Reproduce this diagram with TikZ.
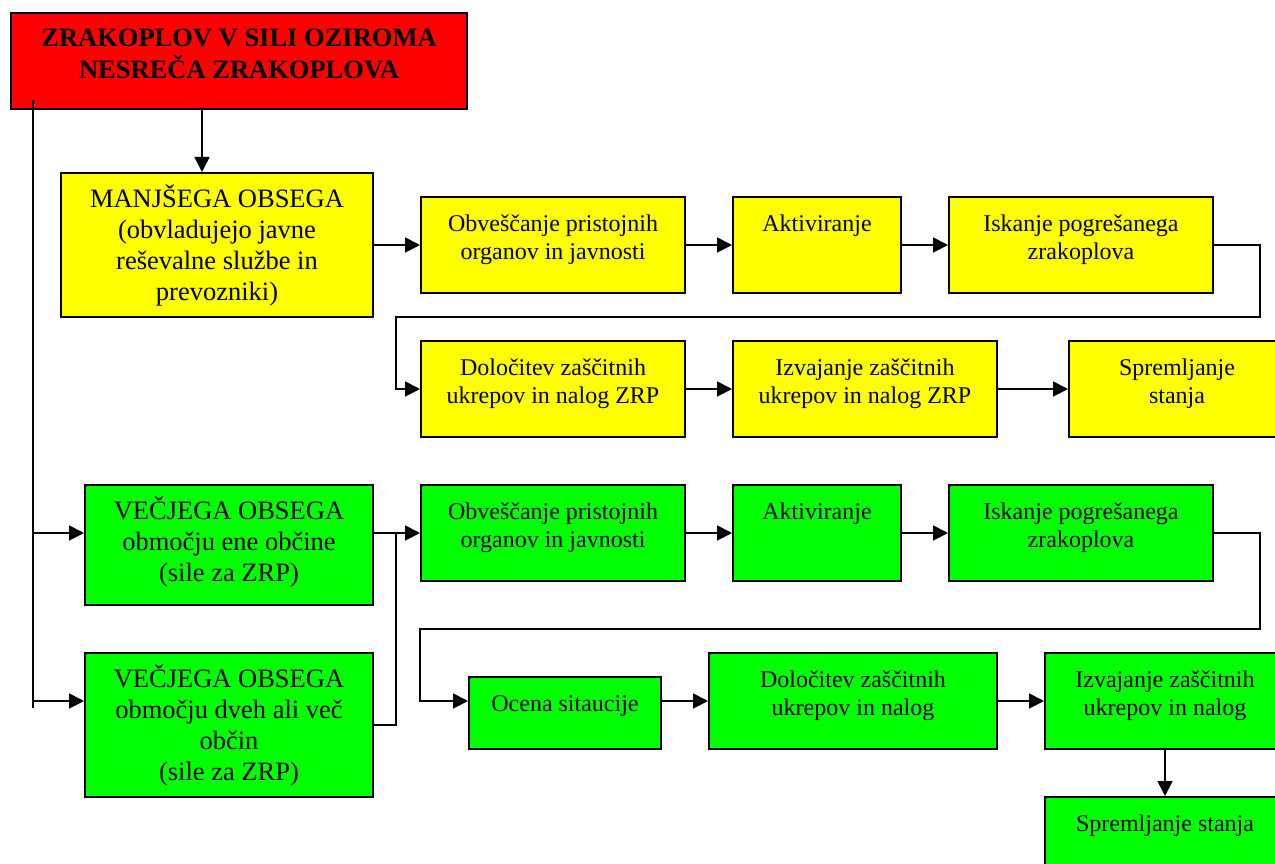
\documentclass[tikz,border=0pt]{standalone}
\usepackage{fontspec}
\setmainfont{Liberation Serif}
\usetikzlibrary{arrows.meta,calc}

\definecolor{alarmred}{HTML}{FF0000}
\definecolor{minoryellow}{HTML}{FFFF00}
\definecolor{majorgreen}{HTML}{00FF00}

\newcommand{\boxtext}[3]{\parbox[c][#2][t]{#1}{\centering\rule{0pt}{34pt}#3}}

\tikzset{
  stage/.style={draw, line width=2pt, inner sep=0pt, anchor=north west,
    font=\fontsize{24}{28}\selectfont},
  level/.style={stage, font=\fontsize{26.5}{31}\selectfont},
  flow/.style={line width=1.8pt, -{Triangle[length=15pt,width=15pt]}},
  wire/.style={line width=1.8pt}
}

\begin{document}
\begin{tikzpicture}[x=1pt, y=-1pt]
                \useasboundingbox (0,0) rectangle (1275,864);
                \clip (0,0) rectangle (1275,864);

                \node[level, fill=alarmred, font=\fontsize{26.5}{32}\selectfont\bfseries] (alarm) at (10,12)
                    {\boxtext{456pt}{96pt}{ZRAKOPLOV V SILI OZIROMA\\NESREČA ZRAKOPLOVA}};

                % manjsi obseg
                \node[level, fill=minoryellow] (minor) at (60,172)
                    {\boxtext{312pt}{144pt}{MANJŠEGA OBSEGA\\(obvladujejo javne\\reševalne službe in\\prevozniki)}};
                \node[stage, fill=minoryellow] (inform1) at (420,196)
                    {\boxtext{264pt}{96pt}{Obveščanje pristojnih\\organov in javnosti}};
                \node[stage, fill=minoryellow] (activate1) at (732,196)
                    {\boxtext{168pt}{96pt}{Aktiviranje}};
                \node[stage, fill=minoryellow] (search1) at (948,196)
                    {\boxtext{264pt}{96pt}{Iskanje pogrešanega\\zrakoplova}};
                \node[stage, fill=minoryellow] (measures1) at (420,340)
                    {\boxtext{264pt}{96pt}{Določitev zaščitnih\\ukrepov in nalog ZRP}};
                \node[stage, fill=minoryellow] (execute1) at (732,340)
                    {\boxtext{264pt}{96pt}{Izvajanje zaščitnih\\ukrepov in nalog ZRP}};
                \node[stage, fill=minoryellow] (monitor1) at (1068,340)
                    {\boxtext{216pt}{96pt}{Spremljanje\\stanja}};

                % vecji obseg
                \node[level, fill=majorgreen] (majorone) at (84,484)
                    {\boxtext{288pt}{120pt}{VEČJEGA OBSEGA\\območju ene občine\\(sile za ZRP)}};
                \node[level, fill=majorgreen] (majormany) at (84,652)
                    {\boxtext{288pt}{144pt}{VEČJEGA OBSEGA\\območju dveh ali več\\občin\\(sile za ZRP)}};
                \node[stage, fill=majorgreen] (inform2) at (420,484)
                    {\boxtext{264pt}{96pt}{Obveščanje pristojnih\\organov in javnosti}};
                \node[stage, fill=majorgreen] (activate2) at (732,484)
                    {\boxtext{168pt}{96pt}{Aktiviranje}};
                \node[stage, fill=majorgreen] (search2) at (948,484)
                    {\boxtext{264pt}{96pt}{Iskanje pogrešanega\\zrakoplova}};
                \node[stage, fill=majorgreen] (assess) at (468,676)
                    {\boxtext{192pt}{72pt}{Ocena sitaucije}};
                \node[stage, fill=majorgreen] (measures2) at (708,652)
                    {\boxtext{288pt}{96pt}{Določitev zaščitnih\\ukrepov in nalog}};
                \node[stage, fill=majorgreen] (execute2) at (1044,652)
                    {\boxtext{240pt}{96pt}{Izvajanje zaščitnih\\ukrepov in nalog}};
                \node[stage, fill=majorgreen] (monitor2) at (1044,796)
                    {\boxtext{240pt}{96pt}{Spremljanje stanja}};

                % povezave
                \coordinate (drop) at (202,0);
                \coordinate (trunktop) at (33,100);
                \coordinate (trunkend) at (33,708);
                \draw[flow] (alarm.south -| drop) -- (minor.north -| drop);
                \draw[wire] (trunktop) -- (trunkend);
                \draw[flow] (trunktop |- inform2.west) -- (majorone.west |- inform2.west);
                \draw[flow] (trunktop |- measures2.west) -- (majormany.west |- measures2.west);

                \draw[flow] (minor.east) -- (inform1.west);
                \draw[flow] (inform1.east) -- (activate1.west);
                \draw[flow] (activate1.east) -- (search1.west);
                \draw[flow] (search1.east) -- ++(46,0) -- ++(0,72) -| ($(measures1.west)+(-24,0)$) -- (measures1.west);
                \draw[flow] (measures1.east) -- (execute1.west);
                \draw[flow] (execute1.east) -- (monitor1.west);

                \draw[flow] (majorone.east |- inform2.west) -- (inform2.west);
                \draw[wire] (majormany.east) -| ($(inform2.west)+(-24,0)$);
                \draw[flow] (inform2.east) -- (activate2.west);
                \draw[flow] (activate2.east) -- (search2.west);
                \draw[flow] (search2.east) -- ++(46,0) -- ++(0,96) -| ($(assess.west |- measures2.west)+(-48,0)$) -- (assess.west |- measures2.west);
                \draw[flow] (assess.east |- measures2.west) -- (measures2.west);
                \draw[flow] (measures2.east) -- (execute2.west);
                \draw[flow] (execute2.south) -- (monitor2.north);
\end{tikzpicture}
\end{document}
